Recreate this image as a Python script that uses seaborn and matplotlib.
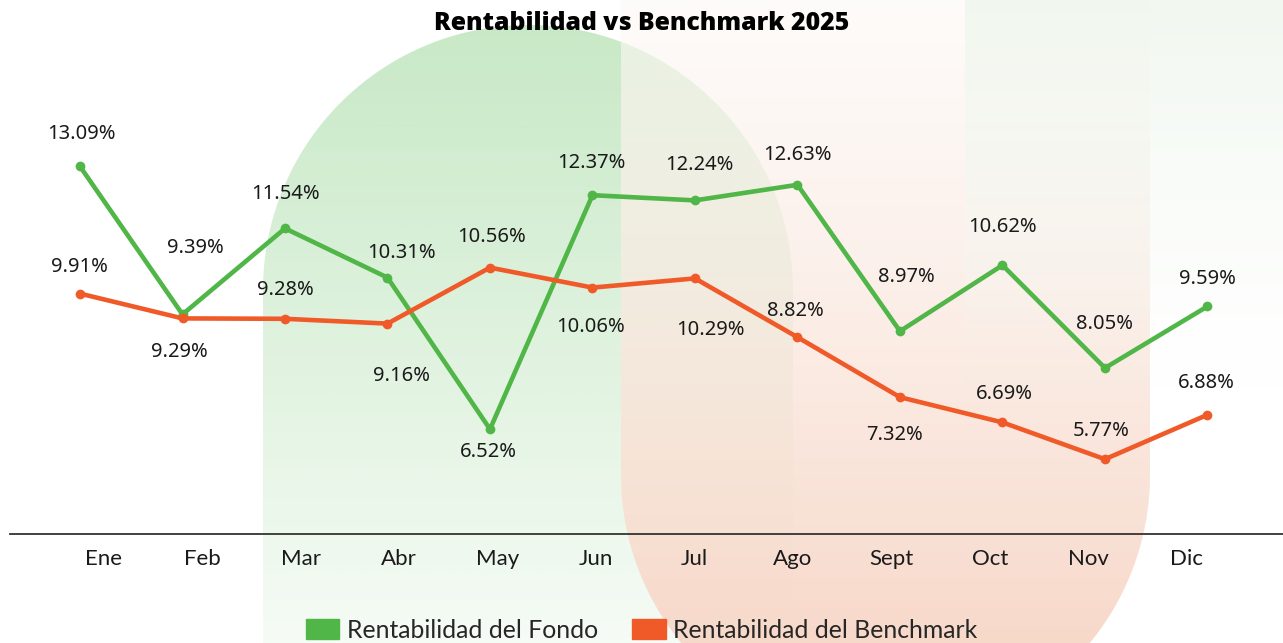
import numpy as np
import pandas as pd
import seaborn as sns
import matplotlib.pyplot as plt
from matplotlib.patches import Patch, Polygon

months = ["Ene", "Feb", "Mar", "Abr", "May", "Jun", "Jul", "Ago", "Sept", "Oct", "Nov", "Dic"]
fondo = [13.09, 9.39, 11.54, 10.31, 6.52, 12.37, 12.24, 12.63, 8.97, 10.62, 8.05, 9.59]
benchmark = [9.91, 9.29, 9.28, 9.16, 10.56, 10.06, 10.29, 8.82, 7.32, 6.69, 5.77, 6.88]

# label offsets in pixels (dx, dy) from each point
fondo_off = [(1, 32), (13, 66), (0, 34), (14, 25), (-2, -23), (-1, 32),
             (4, 35), (0, 30), (6, 54), (0, 38), (0, 44), (0, 27)]
bench_off = [(-1, 27), (-3, -34), (0, 29), (14, -52), (2, 31), (-2, -39),
             (15, -52), (-2, 26), (-5, -38), (2, 28), (-4, 28), (-1, 32)]

GREEN = "#50B648"
ORANGE = "#F05A28"

sns.set_theme(style="white")
plt.rcParams["font.family"] = ["Lato", "DejaVu Sans"]

W, H = 1283, 643
fig = plt.figure(figsize=(W / 100, H / 100), dpi=100)
fig.patch.set_facecolor("white")

# decorative background
bg = fig.add_axes([0, 0, 1, 1], zorder=-1)
bg.set_xlim(0, W)
bg.set_ylim(H, 0)
bg.axis("off")


def gradient(ax, poly_pts, rgb_top, rgb_bot, a_top, a_bot, y_top, y_bot, y_fade=None, z=1):
    xs = [p[0] for p in poly_pts]
    x0, x1 = min(xs), max(xs)
    n = 256
    ys = np.linspace(y_top, y_bot, n)
    fade_end = y_fade if y_fade is not None else y_bot
    alpha = np.interp(ys, [y_top, fade_end], [a_top, a_bot])
    frac = np.clip((ys - y_top) / (y_bot - y_top), 0, 1)[:, None]
    img = np.zeros((n, 1, 4))
    img[:, 0, :3] = (np.array(rgb_top) * (1 - frac) + np.array(rgb_bot) * frac) / 255
    img[:, 0, 3] = alpha
    poly = Polygon(poly_pts, closed=True, facecolor="none", edgecolor="none")
    ax.add_patch(poly)
    im = ax.imshow(img, extent=[x0, x1, y_bot, y_top], aspect="auto",
                   origin="upper", zorder=z, interpolation="bilinear")
    im.set_clip_path(poly)


t = np.linspace(np.pi, 0, 120)
green_arch = [(528 + 265 * np.cos(a), 290 - 265 * np.sin(a)) for a in t]
green_arch += [(793, 700), (263, 700)]
gradient(bg, green_arch, (77, 184, 72), (77, 184, 72), 0.31, 0.03, 25, 700, z=1)

t2 = np.linspace(0, np.pi, 120)
orange_arch = [(621, -10), (1150, -10)]
orange_arch += [(885.5 + 264.5 * np.cos(a), 475 + 264.5 * np.sin(a)) for a in t2]
gradient(bg, orange_arch, (253, 250, 248), (247, 210, 192), 0.6, 1.0, -10, 740, z=2)

right_rect = [(965, -10), (1290, -10), (1290, 700), (965, 700)]
gradient(bg, right_rect, (240, 247, 238), (250, 252, 250), 0.9, 0.0, -10, 700, y_fade=390, z=3)

# main chart
ax = fig.add_axes([10 / W, (H - 534) / H, 1273 / W, 494 / H])
ax.set_facecolor("none")

df = pd.DataFrame({"pos": np.arange(len(months)), "fondo": fondo, "benchmark": benchmark})
sns.lineplot(data=df, x="pos", y="fondo", ax=ax, color=GREEN, lw=3.3,
             marker="o", markersize=7, markeredgewidth=0, solid_joinstyle="round")
sns.lineplot(data=df, x="pos", y="benchmark", ax=ax, color=ORANGE, lw=3.3,
             marker="o", markersize=7, markeredgewidth=0, solid_joinstyle="round")

ax.set_xlim(-0.683, 11.737)
ax.set_ylim(3.9, 16.25)
ax.set_xticks([])
ax.set_yticks([])
ax.set_xlabel("")
ax.set_ylabel("")
for s in ["top", "left", "right"]:
    ax.spines[s].set_visible(False)
ax.spines["bottom"].set_color("#333333")
ax.spines["bottom"].set_linewidth(1.3)

for i, v in enumerate(fondo):
    ax.annotate(f"{v:.2f}%", (i, v), xytext=fondo_off[i], textcoords="offset pixels",
                ha="center", va="center", fontsize=14.5, family=["Noto Sans", "DejaVu Sans"],
                color="#1a1a1a")
for i, v in enumerate(benchmark):
    ax.annotate(f"{v:.2f}%", (i, v), xytext=bench_off[i], textcoords="offset pixels",
                ha="center", va="center", fontsize=14.5, family=["Noto Sans", "DejaVu Sans"],
                color="#1a1a1a")

# month labels sit on their own scale
lab = fig.add_axes([10 / W, (H - 534) / H, 1273 / W, 494 / H], frameon=False)
lab.set_xlim(-0.955, 11.98)
lab.set_xticks(range(len(months)))
lab.set_xticklabels(months, fontsize=16, color="#1a1a1a")
lab.tick_params(axis="x", length=0, pad=11)
lab.set_yticks([])
lab.patch.set_alpha(0)

fig.text(0.5, 1 - 23 / H, "Rentabilidad vs Benchmark 2025", ha="center", va="center",
         fontsize=17.8, fontweight=800, family=["Open Sans", "DejaVu Sans"], color="black")

handles = [Patch(color=GREEN), Patch(color=ORANGE)]
fig.legend(handles, ["Rentabilidad del Fondo", "Rentabilidad del Benchmark"],
           loc="center", bbox_to_anchor=(0.5, 13 / H), ncol=2, frameon=False,
           fontsize=17.8, handlelength=1.36, handleheight=0.82, handletextpad=0.29,
           columnspacing=1.4)

fig.savefig("out.png", dpi=100)
